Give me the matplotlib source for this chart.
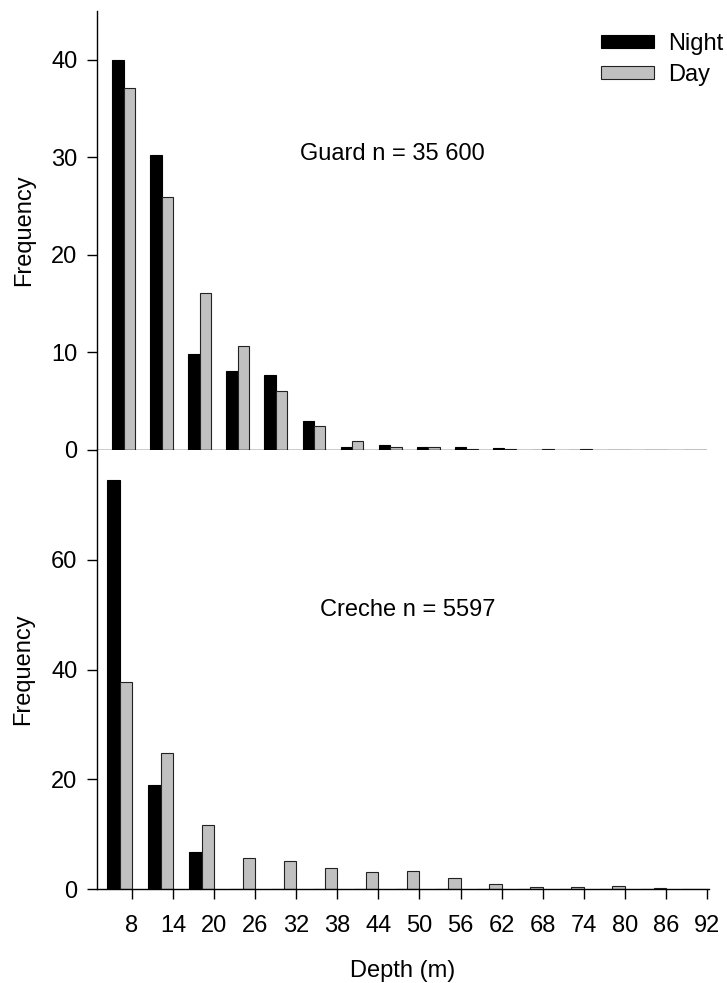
import matplotlib
matplotlib.use('Agg')
import matplotlib.pyplot as plt
import numpy as np

plt.rcParams['font.family'] = ['Liberation Sans', 'DejaVu Sans']

# depth bins (m), label = lower edge of the upper 6 m bin
depth_top = [8, 14, 20, 26, 32, 38, 44, 50, 56, 62, 68, 74, 80, 86, 92, 98]
guard_night = [40.0, 30.2, 9.8, 8.1, 7.7, 3.0, 0.3, 0.5, 0.3, 0.35, 0.2, 0.0, 0.0, 0.0, 0.0, 0.0]
guard_day = [37.1, 25.9, 16.1, 10.7, 6.0, 2.5, 0.9, 0.35, 0.3, 0.15, 0.1, 0.15, 0.1, 0.0, 0.0, 0.0]

depth_bottom = [8, 14, 20, 26, 32, 38, 44, 50, 56, 62, 68, 74, 80, 86, 92]
creche_night = [74.5, 18.9, 6.8, 0, 0, 0, 0, 0, 0, 0, 0, 0, 0, 0, 0]
creche_day = [37.8, 24.8, 11.7, 5.6, 5.1, 3.8, 3.1, 3.25, 2.0, 0.95, 0.4, 0.4, 0.55, 0.2, 0.0]

W, H = 727, 983
fig = plt.figure(figsize=(W / 100, H / 100), dpi=100)

ax0 = fig.add_axes([97 / W, 1 - 450 / H, 609 / W, (450 - 11) / H])
ax1 = fig.add_axes([97 / W, 1 - 889 / H, 612 / W, (889 - 450) / H])

bw = 1.8
gray = '#c0c0c0'
fs = 17


def draw(ax, x, night, day):
    x = np.array(x, dtype=float)
    b1 = ax.bar(x - 1.5 * bw, night, width=bw, color='black', edgecolor='black', linewidth=0.8)
    b2 = ax.bar(x - 0.5 * bw, day, width=bw, color=gray, edgecolor='#222222', linewidth=0.8)
    for s in ['top', 'right']:
        ax.spines[s].set_visible(False)
    for s in ['left', 'bottom']:
        ax.spines[s].set_linewidth(1.0)
        ax.spines[s].set_zorder(5)
    ax.tick_params(axis='y', direction='out', length=7, width=1.0, labelsize=fs, pad=7)
    ax.tick_params(axis='x', direction='out', length=7, width=1.0, labelsize=fs, pad=12)
    return b1, b2


b1, b2 = draw(ax0, depth_top, guard_night, guard_day)
ax0.set_xlim(2, 98)
ax0.set_ylim(0, 45)
ax0.set_yticks([0, 10, 20, 30, 40])
ax0.set_xticks([])
ax0.set_ylabel('Frequency', fontsize=fs, labelpad=12)
ax0.text(48.5, 30.3, 'Guard n = 35 600', fontsize=fs, ha='center', va='center')

draw(ax1, depth_bottom, creche_night, creche_day)
ax1.set_xlim(2.9, 92.3)
ax1.set_ylim(0, 80)
ax1.set_yticks([0, 20, 40, 60])
ax1.set_xticks(depth_bottom)
ax1.set_ylabel('Frequency', fontsize=fs, labelpad=12)
ax1.set_xlabel('Depth (m)', fontsize=fs, labelpad=16)
ax1.text(48.3, 50.9, 'Creche n = 5597', fontsize=fs, ha='center', va='center')

fig.legend([b1, b2], ['Night', 'Day'], loc='upper left',
           bbox_to_anchor=(601 / W, 1 - 33 / H), frameon=False, fontsize=fs,
           handlelength=2.25, handleheight=0.47, handletextpad=0.6,
           labelspacing=0.38, borderpad=0, borderaxespad=0)

fig.savefig('out.png', dpi=100)
